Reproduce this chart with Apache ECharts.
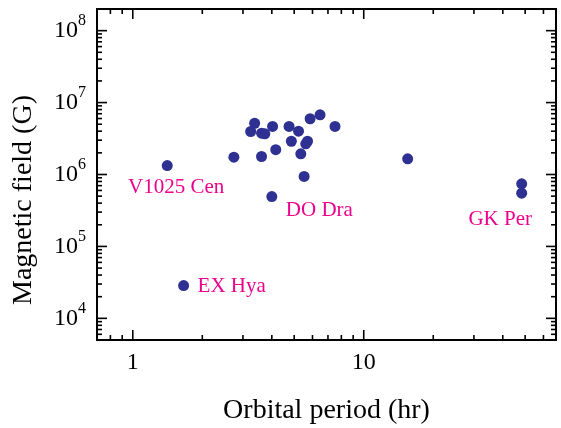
<!DOCTYPE html>
<html>
<head>
<meta charset="utf-8">
<script src="https://cdn.jsdelivr.net/npm/echarts@6/dist/echarts.min.js"></script>
<style>html,body{margin:0;padding:0;background:#fff}#c{width:561px;height:428px}</style>
</head>
<body>
<div id="c"></div>
<script>
// ---- data ----
const periods = [3.37, 3.24, 3.61, 3.73, 4.03, 4.75, 5.22, 4.86, 5.71, 5.61, 5.86, 6.47, 7.51, 4.16, 3.61, 5.34, 5.52, 1.41, 2.74, 4.0, 15.5, 48.3, 48.3, 1.66];
const fields = [5.16e6, 3.96e6, 3.75e6, 3.68e6, 4.66e6, 4.66e6, 4.0e6, 2.9e6, 2.9e6, 2.67e6, 5.96e6, 6.76e6, 4.66e6, 2.21e6, 1.78e6, 1.94e6, 9.4e5, 1.33e6, 1.74e6, 4.94e5, 1.65e6, 7.43e5, 5.5e5, 2.86e4];
const labelNames = ['V1025 Cen', 'DO Dra', 'GK Per', 'EX Hya'];
const labelIndex = [17, 19, 22, 23];
const xTickLabels = [1, 10];
const yTickLabels = [1e4, 1e5, 1e6, 1e7, 1e8];
const xMinorTicks = [0.8, 0.9, 2, 3, 4, 5, 6, 7, 8, 9, 20, 30, 40, 50, 60];
const yMinorTicks = [6e3, 7e3, 8e3, 9e3];
[1e4, 1e5, 1e6, 1e7].forEach(d => [2,3,4,5,6,7,8,9].forEach(m => yMinorTicks.push(d * m)));

const X_MIN = 0.7, X_MAX = 68, Y_MIN = 5e3, Y_MAX = 2e8;

// ---- styles ----
const FONT = 'Liberation Serif';
const labelStyle = {
  'V1025 Cen': { align: 'center', offset: [9, 21.5] },
  'DO Dra':    { align: 'left',   offset: [14, 13.5] },
  'GK Per':    { align: 'center', offset: [-21.5, 26.5] },
  'EX Hya':    { align: 'left',   offset: [14, 0.5] }
};

const scatterData = periods.map((p, i) => {
  const item = { value: [p, fields[i]] };
  const k = labelIndex.indexOf(i);
  if (k >= 0) {
    const name = labelNames[k];
    item.label = Object.assign({
      show: true, position: 'inside', formatter: name,
      fontFamily: FONT, fontSize: 21, color: '#ec008c', verticalAlign: 'middle'
    }, labelStyle[name]);
  }
  return item;
});

// tick marks: [value, axis(0=x,1=y), major(1/0)]
const tickData = [];
xTickLabels.forEach(v => tickData.push([v, 0, 1]));
xMinorTicks.forEach(v => tickData.push([v, 0, 0]));
yTickLabels.forEach(v => tickData.push([v, 1, 1]));
yMinorTicks.forEach(v => tickData.push([v, 1, 0]));

function renderTick(params, api) {
  const cs = params.coordSys;
  const v = api.value(0), ax = api.value(1), major = api.value(2);
  const len = major ? 10 : 5;
  const st = { stroke: '#000', lineWidth: 1.6 };
  if (ax === 0) {
    const x = api.coord([v, Y_MIN])[0];
    return { type: 'group', children: [
      { type: 'line', shape: { x1: x, y1: cs.y + cs.height, x2: x, y2: cs.y + cs.height - len }, style: st },
      { type: 'line', shape: { x1: x, y1: cs.y, x2: x, y2: cs.y + len }, style: st }
    ]};
  } else {
    const y = api.coord([X_MIN, v])[1];
    return { type: 'group', children: [
      { type: 'line', shape: { x1: cs.x, y1: y, x2: cs.x + len, y2: y }, style: st },
      { type: 'line', shape: { x1: cs.x + cs.width, y1: y, x2: cs.x + cs.width - len, y2: y }, style: st }
    ]};
  }
}

const chart = echarts.init(document.getElementById('c'), null, { renderer: 'canvas' });
chart.setOption({
  animation: false,
  backgroundColor: '#fff',
  grid: { left: 97, top: 9, width: 459, height: 331, show: true, borderColor: '#000', borderWidth: 2, backgroundColor: 'transparent', containLabel: false, outerBoundsMode: 'none' },
  xAxis: {
    type: 'log', min: X_MIN, max: X_MAX, logBase: 10,
    name: 'Orbital period (hr)', nameLocation: 'middle', nameGap: 57,
    nameTextStyle: { fontFamily: FONT, fontSize: 28, color: '#000' },
    axisLine: { show: false }, axisTick: { show: false }, splitLine: { show: false }, minorTick: { show: false },
    axisLabel: {
      showMinLabel: false, showMaxLabel: false, margin: 11,
      fontFamily: FONT, fontSize: 24, color: '#000',
      formatter: v => (xTickLabels.indexOf(Math.round(v * 1000) / 1000) >= 0 ? String(Math.round(v)) : '')
    }
  },
  yAxis: {
    type: 'log', min: Y_MIN, max: Y_MAX, logBase: 10,
    name: 'Magnetic field (G)', nameLocation: 'middle', nameGap: 59,
    nameTextStyle: { fontFamily: FONT, fontSize: 28, color: '#000', padding: [0, 51, 0, 0] },
    axisLine: { show: false }, axisTick: { show: false }, splitLine: { show: false }, minorTick: { show: false },
    axisLabel: {
      showMinLabel: false, showMaxLabel: false, margin: 11,
      formatter: v => {
        const e = Math.round(Math.log10(v));
        if (Math.abs(Math.log10(v) - e) > 1e-6) return '';
        return '{b|10}{s|' + e + '}';
      },
      rich: {
        b: { fontFamily: FONT, fontSize: 24, lineHeight: 24, color: '#000', verticalAlign: 'bottom' },
        s: { fontFamily: FONT, fontSize: 16, lineHeight: 16, color: '#000', verticalAlign: 'bottom', padding: [0, 0, 14, 0] }
      }
    }
  },
  series: [
    {
      type: 'scatter', data: scatterData, symbol: 'circle', symbolSize: 11,
      itemStyle: { color: '#2e3192', opacity: 1 }, z: 3
    },
    {
      type: 'custom', data: tickData, renderItem: renderTick, silent: true, z: 5,
      encode: { x: -1, y: -1 }
    }
  ]
});
</script>
</body>
</html>
